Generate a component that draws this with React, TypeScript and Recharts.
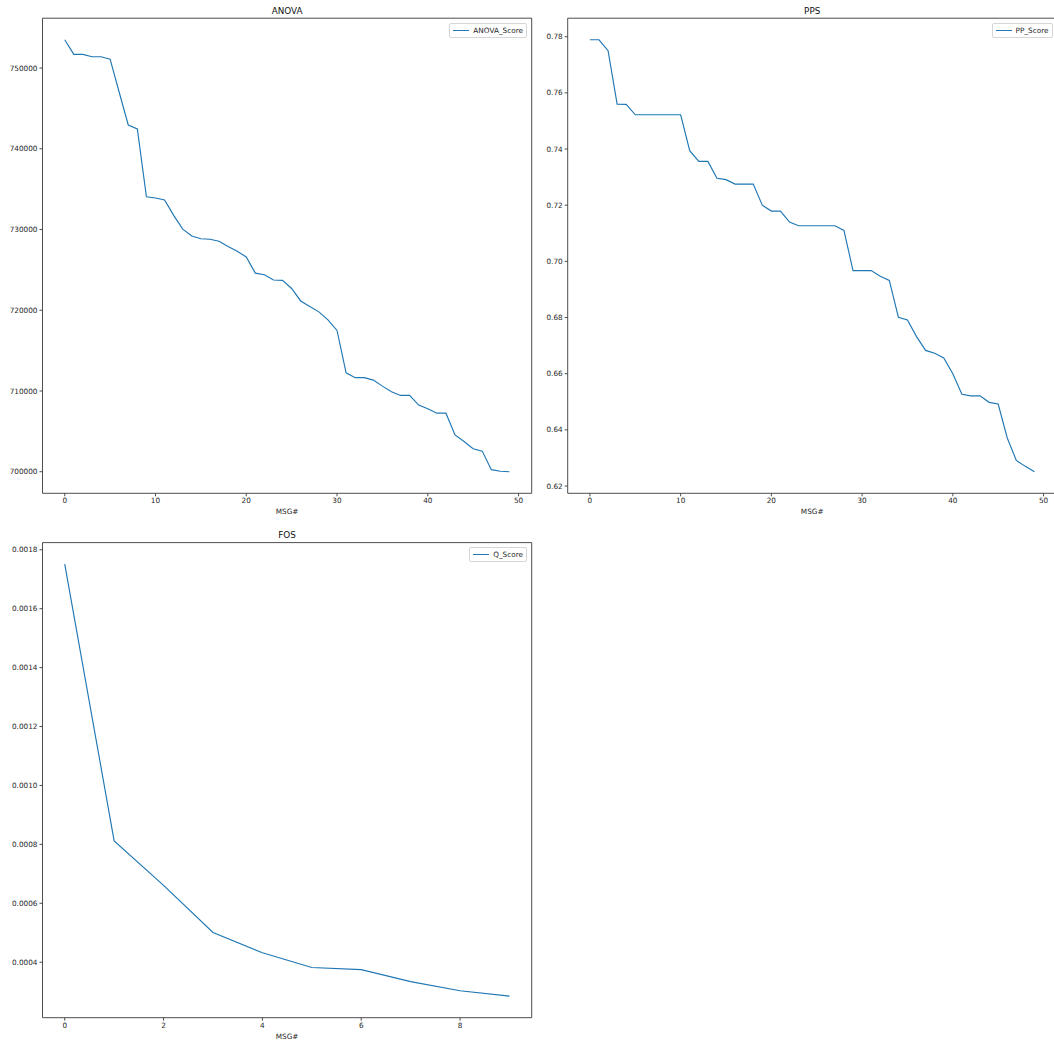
import React from 'react';
import { LineChart, Line, XAxis, YAxis, ReferenceArea, Legend } from 'recharts';

// ---------- data ----------
const msgIndex50 = [
  0, 1, 2, 3, 4, 5, 6, 7, 8, 9, 10, 11, 12, 13, 14, 15, 16, 17, 18, 19, 20, 21, 22, 23, 24,
  25, 26, 27, 28, 29, 30, 31, 32, 33, 34, 35, 36, 37, 38, 39, 40, 41, 42, 43, 44, 45, 46, 47, 48, 49,
];
const msgIndex10 = [0, 1, 2, 3, 4, 5, 6, 7, 8, 9];

const anovaScores = [
  753500, 751700, 751700, 751400, 751400, 751100, 747000, 742950, 742450, 734050,
  733900, 733650, 731750, 730050, 729200, 728850, 728800, 728550, 727900, 727300,
  726600, 724600, 724400, 723750, 723700, 722700, 721150, 720450, 719800, 718800,
  717500, 712250, 711650, 711650, 711350, 710600, 709900, 709450, 709450, 708250,
  707800, 707250, 707250, 704550, 703750, 702850, 702550, 700250, 700050, 700000,
];

const ppScores = [
  0.7789, 0.7789, 0.775, 0.756, 0.7559, 0.7522, 0.7522, 0.7522, 0.7522, 0.7522,
  0.7522, 0.7394, 0.7356, 0.7356, 0.7296, 0.7291, 0.7275, 0.7275, 0.7275, 0.72,
  0.7179, 0.7179, 0.714, 0.7127, 0.7127, 0.7127, 0.7127, 0.7127, 0.711, 0.6967,
  0.6967, 0.6967, 0.6947, 0.6932, 0.6801, 0.6791, 0.6732, 0.6683, 0.6673, 0.6656,
  0.66, 0.6527, 0.6521, 0.6521, 0.6498, 0.6492, 0.6371, 0.6291, 0.627, 0.6251,
];

const qScores = [0.001751, 0.000812, 0.000661, 0.000501, 0.000432, 0.000382, 0.000375, 0.000334, 0.000303, 0.000285];

const anovaYTicks = [700000, 710000, 720000, 730000, 740000, 750000];
const ppYTicks = [0.62, 0.64, 0.66, 0.68, 0.7, 0.72, 0.74, 0.76, 0.78];
const qYTicks = [0.0004, 0.0006, 0.0008, 0.001, 0.0012, 0.0014, 0.0016, 0.0018];
const xTicks50 = [0, 10, 20, 30, 40, 50];
const xTicks10 = [0, 2, 4, 6, 8];

// ---------- styling ----------
const FONT = '"DejaVu Sans", sans-serif';
const LINE_COLOR = '#1f77b4';
const SPINE = '#3a3a3a';
const TEXT = '#262626';
const TICK_FONT = 7.3;
const TITLE_FONT = 8.8;

function padDomain(values: number[]): [number, number] {
  const lo = Math.min(...values);
  const hi = Math.max(...values);
  const pad = (hi - lo) * 0.05;
  return [lo - pad, hi + pad];
}

type PanelProps = {
  title: string;
  seriesName: string;
  xs: number[];
  ys: number[];
  yTicks: number[];
  xTicks: number[];
  yFormat: (v: number) => string;
  left: number;
  top: number;
  width: number;
  height: number;
  clipWidth?: number;
  clipHeight?: number;
  marginTop: number;
  marginRight: number;
  yAxisWidth: number;
  xAxisHeight: number;
  labelOffset: number;
  legendRight: number;
  legendTop: number;
};

const LegendBox = ({ label }: { label: string }) => (
  <div
    style={{
      display: 'flex',
      alignItems: 'center',
      background: '#fff',
      border: '1px solid #d6d6d6',
      borderRadius: 2,
      padding: '2px 3px',
      fontSize: TICK_FONT,
      lineHeight: '9px',
      fontFamily: FONT,
      color: TEXT,
      whiteSpace: 'nowrap',
    }}
  >
    <span style={{ display: 'block', width: 16, height: 1, background: LINE_COLOR, marginRight: 4 }} />
    <span>{label}</span>
  </div>
);

function Panel(p: PanelProps) {
  const data = p.xs.map((x, i) => ({ msg: x, value: p.ys[i] }));
  const xDomain = padDomain(p.xs);
  const yDomain = padDomain(p.ys);
  const plotLeft = p.yAxisWidth;
  const plotRight = p.width - p.marginRight;
  const titleCenter = (plotLeft + plotRight) / 2;
  const tickStyle = { fontSize: TICK_FONT, fill: TEXT, fontFamily: FONT };
  return (
    <div
      style={{
        position: 'absolute',
        left: p.left,
        top: p.top,
        width: p.clipWidth ?? p.width,
        height: p.clipHeight ?? p.height,
        overflow: 'hidden',
      }}
    >
      <div
        style={{
          position: 'absolute',
          left: titleCenter,
          top: p.marginTop - 12.2,
          transform: 'translateX(-50%)',
          fontSize: TITLE_FONT,
          lineHeight: '10px',
          fontFamily: FONT,
          color: '#111',
          whiteSpace: 'nowrap',
        }}
      >
        {p.title}
      </div>
      <LineChart
        width={p.width}
        height={p.height}
        data={data}
        margin={{ top: p.marginTop, right: p.marginRight, bottom: 0, left: 0 }}
        style={{ fontFamily: FONT }}
      >
        <XAxis
          dataKey="msg"
          type="number"
          domain={xDomain}
          allowDataOverflow
          ticks={p.xTicks}
          interval={0}
          height={p.xAxisHeight}
          axisLine={false}
          tickLine={{ stroke: SPINE, strokeWidth: 0.9 }}
          tickSize={3}
          tickMargin={2}
          tick={tickStyle}
          label={{ value: 'MSG#', position: 'insideBottom', offset: p.labelOffset, style: { fontSize: TICK_FONT, fill: TEXT, fontFamily: FONT } }}
        />
        <YAxis
          type="number"
          domain={yDomain}
          allowDataOverflow
          ticks={p.yTicks}
          interval={0}
          width={p.yAxisWidth}
          axisLine={false}
          tickLine={{ stroke: SPINE, strokeWidth: 0.9 }}
          tickSize={3}
          tickMargin={2}
          tick={tickStyle}
          tickFormatter={p.yFormat}
        />
        <ReferenceArea
          x1={xDomain[0]}
          x2={xDomain[1]}
          y1={yDomain[0]}
          y2={yDomain[1]}
          fill="none"
          fillOpacity={0}
          stroke={SPINE}
          strokeWidth={0.9}
          ifOverflow="visible"
        />
        <Line
          type="linear"
          dataKey="value"
          name={p.seriesName}
          stroke={LINE_COLOR}
          strokeWidth={1.15}
          dot={false}
          activeDot={false}
          isAnimationActive={false}
        />
        <Legend
          layout="horizontal"
          verticalAlign="middle"
          align="center"
          wrapperStyle={{ top: p.legendTop, right: p.legendRight, left: 'auto', bottom: 'auto', width: 'auto', height: 'auto' }}
          content={() => <LegendBox label={p.seriesName} />}
        />
      </LineChart>
    </div>
  );
}

export default function App() {
  return (
    <div
      style={{
        position: 'absolute',
        left: 0,
        top: 0,
        width: 1054,
        height: 1044,
        overflow: 'hidden',
        background: '#fff',
        fontFamily: FONT,
      }}
    >
      <Panel
        title="ANOVA"
        seriesName="ANOVA_Score"
        xs={msgIndex50}
        ys={anovaScores}
        yTicks={anovaYTicks}
        xTicks={xTicks50}
        yFormat={(v) => String(Math.round(v))}
        left={0}
        top={0}
        width={540}
        height={520}
        marginTop={18.2}
        marginRight={8.3}
        yAxisWidth={42.5}
        xAxisHeight={26.7}
        labelOffset={5.7}
        legendRight={13}
        legendTop={22.7}
      />
      <Panel
        title="PPS"
        seriesName="PP_Score"
        xs={msgIndex50}
        ys={ppScores}
        yTicks={ppYTicks}
        xTicks={xTicks50}
        yFormat={(v) => v.toFixed(2)}
        left={530}
        top={0}
        width={530}
        height={520}
        clipWidth={524}
        clipHeight={519}
        marginTop={18.2}
        marginRight={3.3}
        yAxisWidth={37.7}
        xAxisHeight={26.7}
        labelOffset={5.7}
        legendRight={7.5}
        legendTop={22.7}
      />
      <Panel
        title="FOS"
        seriesName="Q_Score"
        xs={msgIndex10}
        ys={qScores}
        yTicks={qYTicks}
        xTicks={xTicks10}
        yFormat={(v) => v.toFixed(4)}
        left={0}
        top={520}
        width={540}
        height={524}
        marginTop={22.6}
        marginRight={8.3}
        yAxisWidth={42.5}
        xAxisHeight={26.3}
        labelOffset={4.7}
        legendRight={13}
        legendTop={27.1}
      />
    </div>
  );
}
